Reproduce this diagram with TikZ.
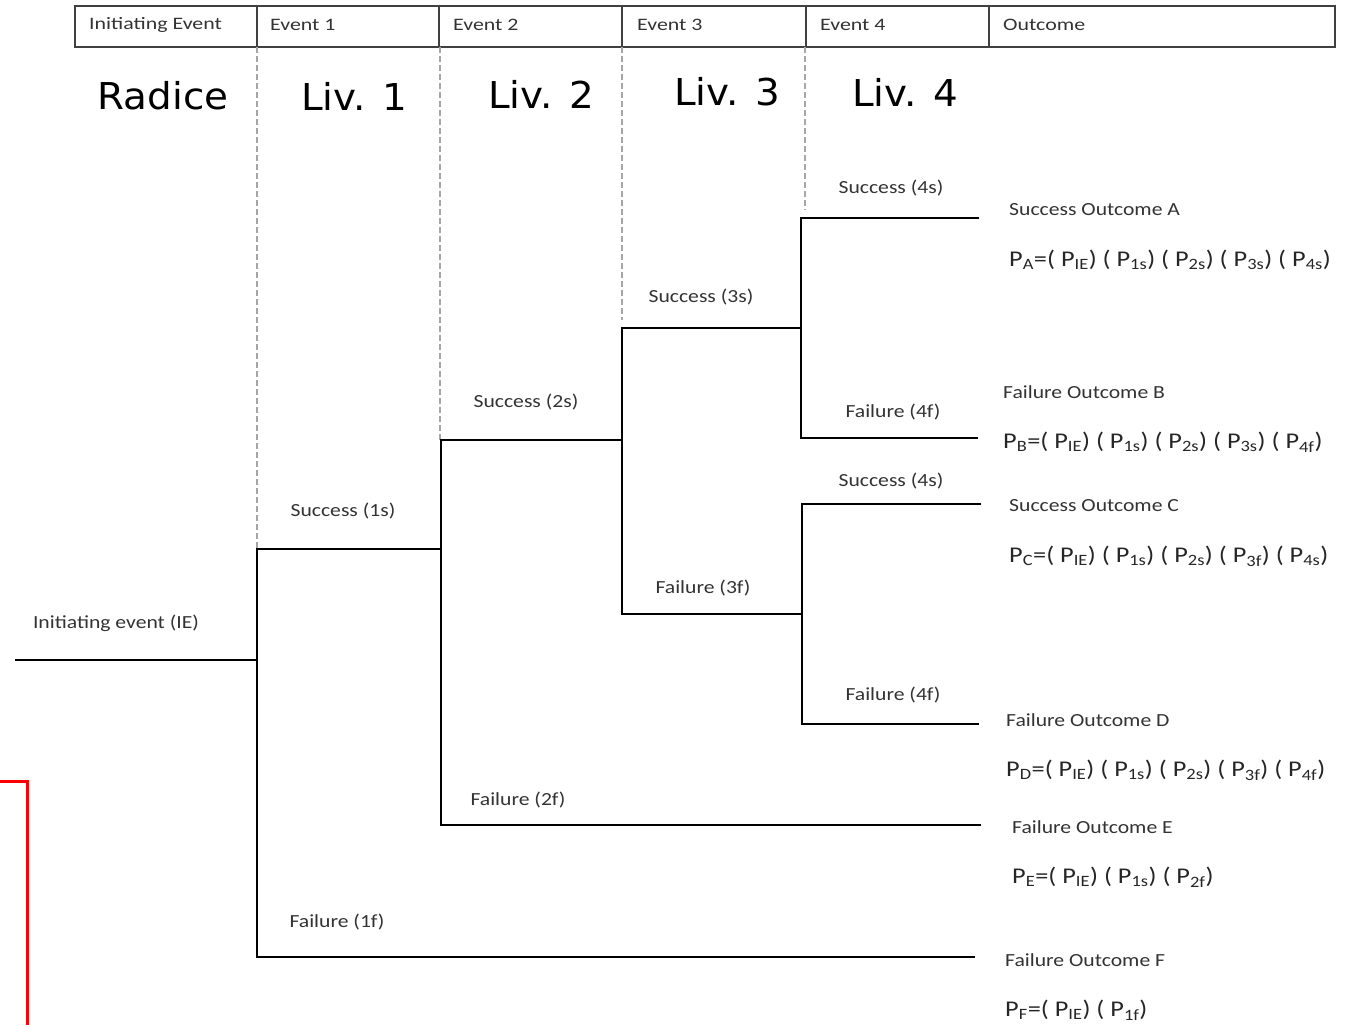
\documentclass[tikz,border=0pt]{standalone}
\usepackage{fontspec}
\newfontfamily\calib[FakeStretch=1.17]{Carlito}
\newfontfamily\calibhdr[FakeStretch=1.25]{Carlito}
\newfontfamily\verd[FakeStretch=1.05]{DejaVu Sans}
\begin{document}
\begin{tikzpicture}[x=1pt,y=-1pt,
  branch/.style={line width=2.9pt,black,line join=miter},
  guide/.style={line width=1.8pt,black!35,dash pattern=on 6pt off 3pt},
  hdr/.style={font=\calibhdr\fontsize{17.5}{19}\selectfont,text=black!80,anchor=west,inner sep=0pt},
  lvl/.style={font=\verd\fontsize{37}{40}\selectfont,text=black,inner sep=0pt},
  lbl/.style={font=\calib\fontsize{18.5}{20}\selectfont,text=black!80,inner sep=0pt},
  outl/.style={lbl,anchor=west},
  prob/.style={font=\calib\fontsize{22.5}{25}\selectfont,text=black!85,anchor=west,inner sep=0pt}]
\useasboundingbox (0,0) rectangle (1348,1025);

% header table
\draw[line width=1.3pt,black!75] (75,6) rectangle (1335,47);
\foreach \x in {257,439,622,806,989}
  \draw[line width=1.3pt,black!75] (\x,6) -- (\x,47);
\node[hdr] (h0) at (89,25) {Initiating Event};
\node[hdr] (h1) at (270,25) {Event 1};
\node[hdr] (h2) at (453,25) {Event 2};
\node[hdr] (h3) at (637,25) {Event 3};
\node[hdr] (h4) at (820,25) {Event 4};
\node[hdr] (h5) at (1003,25) {Outcome};

% level captions
\node[lvl] (l0) at (163,96) {Radice};
\node[lvl] (l1) at (354,96) {Liv. 1};
\node[lvl] (l2) at (541,94) {Liv. 2};
\node[lvl] (l3) at (727,92) {Liv. 3};
\node[lvl] (l4) at (905,92) {Liv. 4};

% tree junctions
\coordinate (ie0) at (15,660);
\coordinate (j1) at (257,660);
\coordinate (j1s) at (257,549);
\coordinate (j1f) at (257,957);
\coordinate (e1s) at (441,549);
\coordinate (j2s) at (441,440);
\coordinate (j2f) at (441,825);
\coordinate (e2s) at (622,440);
\coordinate (j3s) at (622,328);
\coordinate (j3f) at (622,614);
\coordinate (e3s) at (801,328);
\coordinate (e3f) at (802,614);
\coordinate (j4as) at (801,218);
\coordinate (j4af) at (801,438);
\coordinate (j4bs) at (802,504);
\coordinate (j4bf) at (802,724);
\coordinate (oA) at (979,218);
\coordinate (oB) at (978,438);
\coordinate (oC) at (981,504);
\coordinate (oD) at (979,724);
\coordinate (oE) at (981,825);
\coordinate (oF) at (975,957);

% column guides
\coordinate (g1) at (257,47);
\coordinate (g2) at (440,47);
\coordinate (g3) at (622,47);
\coordinate (g4) at (805,47);
\coordinate (g1e) at (257,549);
\coordinate (g2e) at (440,440);
\coordinate (g3e) at (622,320);
\coordinate (g4e) at (805,210);
\draw[guide] (g1) -- (g1e);
\draw[guide] (g2) -- (g2e);
\draw[guide] (g3) -- (g3e);
\draw[guide] (g4) -- (g4e);

% branches
\draw[branch] (ie0) -- (j1);
\draw[branch] (e1s) -- (j1s) -- (j1f) -- (oF);
\draw[branch] (e2s) -- (j2s) -- (j2f) -- (oE);
\draw[branch] (e3s) -- (j3s) -- (j3f) -- (e3f);
\draw[branch] (oA) -- (j4as) -- (j4af) -- (oB);
\draw[branch] (oC) -- (j4bs) -- (j4bf) -- (oD);

% branch labels
\node[lbl] (tie) at (116,623) {Initiating event (IE)};
\node[lbl] (t1s) at (343,511) {Success (1s)};
\node[lbl] (t1f) at (337,922) {Failure (1f)};
\node[lbl] (t2s) at (526,402) {Success (2s)};
\node[lbl] (t2f) at (518,800) {Failure (2f)};
\node[lbl] (t3s) at (701,297) {Success (3s)};
\node[lbl] (t3f) at (703,588) {Failure (3f)};
\node[lbl] (t4as) at (891,188) {Success (4s)};
\node[lbl] (t4af) at (893,412) {Failure (4f)};
\node[lbl] (t4bs) at (891,481) {Success (4s)};
\node[lbl] (t4bf) at (893,695) {Failure (4f)};

% outcomes
\node[outl] (nA) at (1009,210) {Success Outcome A};
\node[prob] (pA) at (1009,260) {P\textsubscript{A}=( P\textsubscript{IE}) ( P\textsubscript{1s}) ( P\textsubscript{2s}) ( P\textsubscript{3s}) ( P\textsubscript{4s})};
\node[outl] (nB) at (1003,392) {Failure Outcome B};
\node[prob] (pB) at (1003,442) {P\textsubscript{B}=( P\textsubscript{IE}) ( P\textsubscript{1s}) ( P\textsubscript{2s}) ( P\textsubscript{3s}) ( P\textsubscript{4f})};
\node[outl] (nC) at (1009,506) {Success Outcome C};
\node[prob] (pC) at (1009,556) {P\textsubscript{C}=( P\textsubscript{IE}) ( P\textsubscript{1s}) ( P\textsubscript{2s}) ( P\textsubscript{3f}) ( P\textsubscript{4s})};
\node[outl] (nD) at (1006,720) {Failure Outcome D};
\node[prob] (pD) at (1006,770) {P\textsubscript{D}=( P\textsubscript{IE}) ( P\textsubscript{1s}) ( P\textsubscript{2s}) ( P\textsubscript{3f}) ( P\textsubscript{4f})};
\node[outl] (nE) at (1012,827) {Failure Outcome E};
\node[prob] (pE) at (1012,877) {P\textsubscript{E}=( P\textsubscript{IE}) ( P\textsubscript{1s}) ( P\textsubscript{2f})};
\node[outl] (nF) at (1005,960) {Failure Outcome F};
\node[prob] (pF) at (1005,1010) {P\textsubscript{F}=( P\textsubscript{IE}) ( P\textsubscript{1f})};

% red marker
\coordinate (r0) at (0,781);
\coordinate (r1) at (27,781);
\coordinate (r2) at (27,1025);
\draw[red,line width=3pt] (r0) -- (r1) -- (r2);
\end{tikzpicture}
\end{document}
